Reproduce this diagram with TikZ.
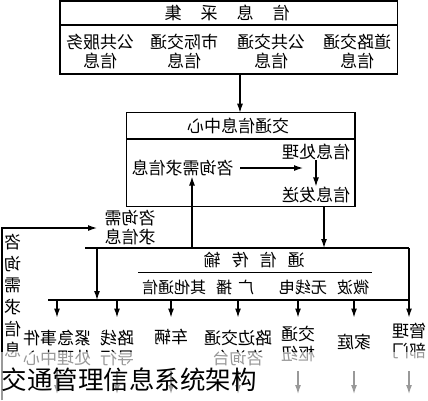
\documentclass[tikz,border=0pt]{standalone}
\usepackage{fontspec}
\newfontfamily\cjk{Noto Sans CJK SC}
\usetikzlibrary{arrows.meta,calc}
\begin{document}
\begin{tikzpicture}[x=1pt,y=-1pt,line width=1.2pt,
  arr/.style={-{Latex[length=9pt,width=6pt]}},
  mir/.style={xscale=-1,inner sep=0pt,align=center,font=\cjk\fontsize{17}{19.5}\selectfont},
  boxnode/.style={draw,line width=1.4pt,inner sep=0pt}]
\useasboundingbox (0,0) rectangle (428,400);
% ---- information collection box
\node[boxnode,minimum width=337.7pt,minimum height=73pt] (collect) at (228.85,37.5) {};
\draw[line width=1.4pt] (60,25) -- (397.7,25);
\node[mir] (tcollect) at (227,12.5) {信\hspace{19pt}息\hspace{19pt}采\hspace{19pt}集};
\node[mir] (c1) at (100,51.5) {公共服务\\信息};
\node[mir] (c2) at (184,51.5) {市际交通\\信息};
\node[mir] (c3) at (271,51.5) {公共交通\\信息};
\node[mir] (c4) at (357,51.5) {道路交通\\信息};
% ---- traffic information centre
\node[boxnode,minimum width=228.3pt,minimum height=94pt] (centre) at (240.85,159.7) {};
\draw[line width=1.4pt] (126.7,139) -- (355,139);
\node[mir] (tcentre) at (238,126) {交通信息中心};
\node[mir] (demand) at (182.5,168) {咨询需求信息};
\node[mir] (proc) at (316,151.5) {信息处理};
\node[mir] (send) at (316,195) {信息发送};
\coordinate (dq) at (240,168);
\coordinate (pin) at (303,168);
\draw[arr] (dq) -- (pin);
\draw[arr] (proc.south) -- (send.north);
\coordinate (c2top) at (240,74);
\coordinate (c2bot) at (240,112.7);
\draw[arr] (c2top) -- (c2bot);
% ---- communication box
\coordinate (ctl) at (85,248);
\coordinate (ctr) at (409,248);
\coordinate (busL) at (48,300);
\coordinate (busR) at (409,300);
\draw (ctl) -- (ctr);
\draw (busL) -- (busR);
\node[mir] (tcomm) at (254,260) {通\hspace{11pt}信\hspace{11pt}传\hspace{11pt}输};
\draw (138,272.7) -- (372,272.7);
\node[mir,font=\cjk\fontsize{16}{18}\selectfont] (media) at (255.5,287) {微波\hspace{10pt}无线电\hspace{25pt}广\hspace{6pt}播\hspace{10pt}其他通信};
\coordinate (sendout) at (324,206.7);
\draw[arr] (sendout) -- (sendout |- ctl);
\coordinate (up0) at (192,248);
\draw[arr] (up0) -- (up0 |- demand.south);
\coordinate (dn0) at (97,248);
\draw[arr] (dn0) -- (dn0 |- busL);
% ---- outer demand path
\node[mir] (qlabel) at (130,227.5) {咨询需\\求信息};
\node[mir,font=\cjk\fontsize{17}{21.6}\selectfont] (vq) at (12.5,296) {咨\\询\\需\\求\\信\\息};
\coordinate (lb) at (2,400);
\coordinate (lt) at (2,228);
\coordinate (lq) at (97,228);
\draw[arr] (lb) -- (lt) -- (lq);
% ---- receivers
\node[mir] (r1) at (57,348) {紧急事件\\处理中心};
\node[mir] (r2) at (117,348) {路线\\导行};
\node[mir] (r3) at (171,337) {车辆};
\node[mir] (r4) at (238,348) {路边交通\\咨询台};
\node[mir] (r5) at (298,344) {交通\\枢纽};
\node[mir] (r6) at (354,342) {家庭};
\node[mir] (r7) at (409,341) {管理\\部门};
\foreach \r in {r1,r2,r3,r4,r5,r6} {
  \draw[arr] (\r.north |- busL) -- ++(0,17.5);
  \draw[arr] (\r.north |- 0,371) -- ++(0,23);
}
\draw[arr] (busR) -- ++(0,17.5);
\draw (ctr) -- (busR);
\draw[arr] (r7.north |- 0,371) -- ++(0,23);
% ---- faded band and caption
\fill[white,opacity=0.6] (0,352) rectangle (428,400);
\node[anchor=west,inner sep=0pt,font=\cjk\fontsize{25.5}{26}\selectfont] (cap) at (1,380) {交通管理信息系统架构};
\end{tikzpicture}
\end{document}
